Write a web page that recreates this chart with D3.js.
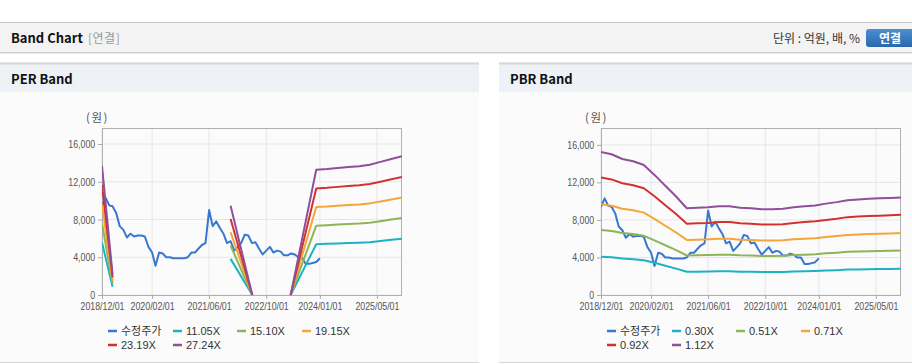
<!DOCTYPE html>
<html>
<head>
<meta charset="utf-8">
<script src="https://cdn.jsdelivr.net/npm/d3@7"></script>
<style>
    body { margin: 0; background: #fff; font-family: "Noto Sans CJK KR", "Noto Sans", sans-serif; }
    .tick text { font-family: "Liberation Sans", sans-serif; font-size: 11px; fill: #555; }
</style>
</head>
<body>
<div id="page"></div>
<script>

/***DATA***/

// adjusted price, monthly 2018/12 .. 2024/01
const priceMonths = ["2018-12","2019-01","2019-02","2019-03","2019-04","2019-05","2019-06","2019-07","2019-08","2019-09","2019-10","2019-11","2019-12",
    "2020-01","2020-02","2020-03","2020-04","2020-05","2020-06","2020-07","2020-08","2020-09","2020-10","2020-11","2020-12",
    "2021-01","2021-02","2021-03","2021-04","2021-05","2021-06","2021-07","2021-08","2021-09","2021-10","2021-11","2021-12",
    "2022-01","2022-02","2022-03","2022-04","2022-05","2022-06","2022-07","2022-08","2022-09","2022-10","2022-11","2022-12",
    "2023-01","2023-02","2023-03","2023-04","2023-05","2023-06","2023-07","2023-08","2023-09","2023-10","2023-11","2023-12","2024-01"];
const price = [9400,10300,9500,9400,8700,7300,6900,6100,6500,6200,6300,6300,6200,
    5100,4500,3100,4500,4400,4000,4000,3900,3900,3900,3900,4000,
    4500,4500,4900,5300,5500,9000,7300,7800,7100,6500,5500,5700,
    4700,5100,5500,6400,6300,5500,5600,4900,4300,4700,5100,4500,
    4700,4600,4200,4200,4400,4300,4000,4000,3300,3300,3400,3500,3900];

// PER band (null = gap)
const perDates = ["2018-12-01","2019-03-01","2020-01-01","2021-12-01","2022-06-04","2023-01-01","2023-04-27","2023-12-01",
    "2024-03-01","2024-06-01","2024-09-01","2024-12-01","2025-03-01","2025-06-01","2025-09-01","2025-12-01"];
const per1105 = [5560, 880, null, 3830, 0, null, 0, 5380, 5420, 5460, 5500, 5540, 5600, 5720, 5850, 5970];
const per1510 = [7600, 1210, null, 5240, 0, null, 0, 7350, 7400, 7460, 7520, 7570, 7660, 7820, 7990, 8150];
const per1915 = [9630, 1530, null, 6650, 0, null, 0, 9330, 9380, 9460, 9540, 9590, 9710, 9920, 10130, 10340];
const per2319 = [11670, 1860, null, 8050, 0, null, 0, 11290, 11360, 11460, 11550, 11620, 11760, 12010, 12270, 12520];
const per2724 = [13700, 2180, null, 9450, 0, null, 0, 13270, 13350, 13460, 13570, 13650, 13810, 14110, 14410, 14710];
const perLabels = ["수정주가","11.05X","15.10X","19.15X","23.19X","27.24X"];

// PBR band, quarterly
const pbrDates = ["2018-12","2019-03","2019-06","2019-09","2019-12","2020-03","2020-06","2020-09","2020-12",
    "2021-03","2021-06","2021-09","2021-12","2022-03","2022-06","2022-09","2022-12","2023-03","2023-06","2023-09","2023-12",
    "2024-03","2024-06","2024-09","2024-12","2025-03","2025-06","2025-09","2025-12"];
const pbr030 = [4090,4020,3890,3820,3710,3430,3120,2810,2480,2490,2510,2530,2530,2490,2480,2450,2450,2460,2510,2530,2560,2610,2650,2710,2730,2750,2760,2770,2790];
const pbr051 = [6940,6830,6610,6490,6310,5830,5300,4780,4210,4230,4260,4300,4300,4230,4210,4170,4170,4190,4260,4300,4350,4440,4510,4600,4640,4670,4690,4710,4740];
const pbr071 = [9670,9510,9200,9030,8780,8120,7380,6660,5870,5890,5930,5990,5990,5890,5870,5800,5800,5830,5930,5990,6060,6180,6280,6400,6460,6500,6530,6560,6600];
const pbr092 = [12530,12320,11910,11700,11380,10520,9570,8630,7600,7640,7680,7770,7770,7640,7600,7520,7520,7550,7680,7770,7850,8000,8130,8300,8370,8420,8460,8500,8550];
const pbr112 = [15250,15000,14500,14250,13850,12800,11650,10500,9250,9300,9350,9450,9450,9300,9250,9150,9150,9200,9350,9450,9550,9740,9900,10100,10190,10250,10300,10350,10400];
const pbrLabels = ["수정주가","0.30X","0.51X","0.71X","0.92X","1.12X"];

const xTicks = ["2018-12-01","2020-02-01","2021-06-01","2022-10-01","2024-01-01","2025-05-01"];
const yTicks = [0, 4000, 8000, 12000, 16000];

const colors = ["#3877cf","#1cb2c6","#8fb458","#f3a63a","#d2322e","#8f4f9a"];

/***PAGE***/

const W = 912, H = 364;
const svg = d3.select("#page").append("svg")
    .attr("width", W).attr("height", H)
    .style("display", "block");

const parseDay = d3.timeParse("%Y-%m-%d");
const parseMonth = d3.timeParse("%Y-%m");

function header() {
    svg.append("rect").attr("x", 0).attr("y", 22).attr("width", W).attr("height", 30).attr("fill", "#f3f3f3");
    svg.append("line").attr("x1", 0).attr("x2", W).attr("y1", 22.5).attr("y2", 22.5).attr("stroke", "#c8c8c8");
    svg.append("line").attr("x1", 0).attr("x2", W).attr("y1", 52.5).attr("y2", 52.5).attr("stroke", "#cfcfcf");
    svg.append("line").attr("x1", 0).attr("x2", W).attr("y1", 53.5).attr("y2", 53.5).attr("stroke", "#e7e7e7");

    svg.append("text").attr("x", 11).attr("y", 43)
        .attr("font-size", 13).attr("font-weight", "bold").attr("fill", "#111")
        .text("Band Chart");
    svg.append("text").attr("x", 88).attr("y", 43)
        .attr("font-size", 12).attr("fill", "#999").attr("letter-spacing", 0.5)
        .text("[연결]");

    svg.append("text").attr("x", 860).attr("y", 43).attr("text-anchor", "end")
        .attr("font-size", 12).attr("fill", "#333")
        .text("단위 : 억원, 배, %");

    const grad = svg.append("defs").append("linearGradient")
        .attr("id", "btn").attr("x1", 0).attr("x2", 0).attr("y1", 0).attr("y2", 1);
    grad.append("stop").attr("offset", "0%").attr("stop-color", "#4d8fd4");
    grad.append("stop").attr("offset", "100%").attr("stop-color", "#2a66ab");
    svg.append("rect").attr("x", 866).attr("y", 29).attr("width", 50).attr("height", 18)
        .attr("rx", 3).attr("fill", "url(#btn)");
    svg.append("text").attr("x", 890).attr("y", 42.5).attr("text-anchor", "middle")
        .attr("font-size", 12).attr("font-weight", "bold").attr("fill", "#fff")
        .text("연결");
}

function panel(ox, w, title) {
    svg.append("rect").attr("x", ox).attr("y", 63).attr("width", w).attr("height", 299).attr("fill", "#fbfbfb");
    svg.append("rect").attr("x", ox).attr("y", 64).attr("width", w).attr("height", 28).attr("fill", "#eef2f6");
    svg.append("line").attr("x1", ox).attr("x2", ox + w).attr("y1", 63.5).attr("y2", 63.5).attr("stroke", "#d6d6d6").attr("stroke-width", 2);
    svg.append("line").attr("x1", ox).attr("x2", ox + w).attr("y1", 362.5).attr("y2", 362.5).attr("stroke", "#d8d8d8");
    svg.append("text").attr("x", ox + 11).attr("y", 84)
        .attr("font-size", 13).attr("font-weight", "bold").attr("fill", "#111")
        .text(title);
}

/***CHART***/

function bandChart(ox, id, dates, series, ymax, labels) {
    const left = ox + 102, top = 128, width = 300, height = 167;

    const x = d3.scaleTime()
        .domain([parseDay("2018-12-01"), parseDay("2025-12-01")])
        .range([left, left + width]);
    const y = d3.scaleLinear().domain([0, ymax]).range([top + height, top]);

    const g = svg.append("g");

    // grid
    g.selectAll(".vgrid").data(xTicks.map(parseDay)).enter().append("line")
        .attr("x1", d => x(d)).attr("x2", d => x(d))
        .attr("y1", top).attr("y2", top + height)
        .attr("stroke", "#e6e6e6");
    g.selectAll(".hgrid").data(yTicks).enter().append("line")
        .attr("x1", left).attr("x2", left + width)
        .attr("y1", d => y(d)).attr("y2", d => y(d))
        .attr("stroke", "#e6e6e6");

    // narrow tick labels, like the original
    g.append("g")
        .attr("transform", "translate(0," + (top + height) + ")")
        .call(d3.axisBottom(x).tickValues(xTicks.map(parseDay)).tickSize(4).tickPadding(3.5)
            .tickFormat(d3.timeFormat("%Y/%m/%d")))
        .call(a => a.select(".domain").remove())
        .call(a => a.selectAll("line").attr("stroke", "#aaa"))
        .call(a => a.selectAll("text").attr("transform", "scale(0.8,1)"));

    g.append("g")
        .attr("transform", "translate(" + left + ",0)")
        .call(d3.axisLeft(y).tickValues(yTicks).tickSize(4).tickPadding(3).tickFormat(d3.format(",")))
        .call(a => a.select(".domain").remove())
        .call(a => a.selectAll("line").attr("stroke", "#aaa"))
        .call(a => a.selectAll("text").attr("x", -8.5).attr("transform", "scale(0.8,1)"));

    g.append("rect").attr("x", left + 0.5).attr("y", top + 0.5)
        .attr("width", width - 1).attr("height", height)
        .attr("fill", "none").attr("stroke", "#b0b0b0");

    g.append("text").attr("x", ox + 86).attr("y", 122)
        .attr("font-size", 11.5).attr("fill", "#555").attr("letter-spacing", 1.5)
        .text("(원)");

    svg.append("clipPath").attr("id", id)
        .append("rect").attr("x", left).attr("y", top).attr("width", width).attr("height", height + 1);

    const line = d3.line()
        .defined(d => d.v != null)
        .x(d => x(d.t)).y(d => y(d.v));

    const lines = g.append("g").attr("clip-path", "url(#" + id + ")");

    const priceData = priceMonths.map((m, i) => ({t: parseMonth(m), v: price[i]}));
    lines.append("path").datum(priceData)
        .attr("d", line).attr("fill", "none")
        .attr("stroke", colors[0]).attr("stroke-width", 2).attr("stroke-linejoin", "round");

    series.forEach(function (s, k) {
        const data = dates.map((t, i) => ({t: t, v: s[i]}));
        lines.append("path").datum(data)
            .attr("d", line).attr("fill", "none")
            .attr("stroke", colors[k + 1]).attr("stroke-width", 2).attr("stroke-linejoin", "round");
    });

    // legend
    const lx = [ox + 108, ox + 173, ox + 237, ox + 302];
    const leg = g.selectAll(".leg").data(labels).enter().append("g")
        .attr("transform", (d, i) => "translate(" + lx[i % 4] + "," + (i < 4 ? 331 : 345) + ")");
    leg.append("line").attr("x1", 0).attr("x2", 9).attr("y1", 0).attr("y2", 0)
        .attr("stroke", (d, i) => colors[i]).attr("stroke-width", 2.5);
    leg.append("text").attr("x", 13).attr("y", 4)
        .attr("font-size", 11).attr("fill", "#333")
        .attr("font-family", (d, i) => i === 0 ? "Noto Sans CJK KR" : "Liberation Sans")
        .text(d => d);
}

header();
panel(0, 479, "PER Band");
panel(499, 413, "PBR Band");

bandChart(0, "clipPer", perDates.map(parseDay), [per1105, per1510, per1915, per2319, per2724], 17700, perLabels);
bandChart(499, "clipPbr", pbrDates.map(parseMonth), [pbr030, pbr051, pbr071, pbr092, pbr112], 17800, pbrLabels);

</script>
</body>
</html>
